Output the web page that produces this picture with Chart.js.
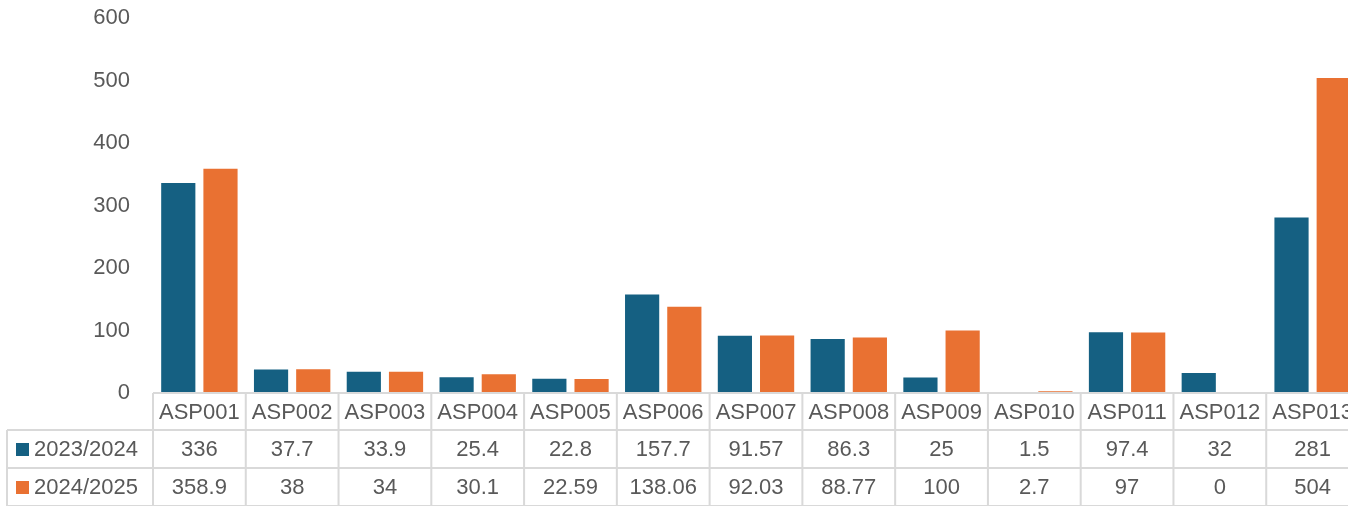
<!DOCTYPE html>
<html>
<head>
<meta charset="utf-8">
<script src="https://cdn.jsdelivr.net/npm/chart.js@4/dist/chart.umd.min.js"></script>
<style>
html,body{margin:0;padding:0;background:#fff;overflow:hidden;}
#wrap{width:1348px;height:506px;overflow:hidden;}
canvas{display:block;}
</style>
</head>
<body>
<div id="wrap"><canvas id="c" width="1362" height="506"></canvas></div>
<script>
const categories = ["ASP001","ASP002","ASP003","ASP004","ASP005","ASP006","ASP007","ASP008","ASP009","ASP010","ASP011","ASP012","ASP013"];
const seriesNames = ["2023/2024","2024/2025"];
const values2324 = [336,37.7,33.9,25.4,22.8,157.7,91.57,86.3,25,1.5,97.4,32,281];
const values2425 = [358.9,38,34,30.1,22.59,138.06,92.03,88.77,100,2.7,97,0,504];
const tickValues = [0,100,200,300,400,500,600];
const colors = ["#156082","#E97132"];

const FONT = "'Liberation Sans', Arial, sans-serif";
const TEXT = "#595959";
const GRID = "#D9D9D9";

const tablePlugin = {
  id: 'dataTable',
  afterDraw(chart) {
    const ctx = chart.ctx;
    const x = chart.scales.x;
    const area = chart.chartArea;
    const n = categories.length;
    const cw = (area.right - area.left) / n;
    const top = area.bottom;
    const rowH = [37, 38, 38];
    const y1 = top + rowH[0], y2 = y1 + rowH[1], y3 = y2 + rowH[2];
    const leftX = 7;
    ctx.save();
    ctx.strokeStyle = GRID;
    ctx.lineWidth = 2;
    ctx.beginPath();
    ctx.moveTo(area.left, top); ctx.lineTo(area.right, top);
    ctx.moveTo(leftX, y1); ctx.lineTo(area.right, y1);
    ctx.moveTo(leftX, y2); ctx.lineTo(area.right, y2);
    ctx.moveTo(leftX, y3); ctx.lineTo(area.right, y3);
    ctx.moveTo(leftX, y1); ctx.lineTo(leftX, y3);
    for (let i = 0; i <= n; i++) {
      const bx = i < n ? x.getPixelForValue(i) - cw / 2 : area.right;
      ctx.moveTo(bx, top); ctx.lineTo(bx, y3);
    }
    ctx.stroke();
    ctx.fillStyle = TEXT;
    ctx.font = "22px " + FONT;
    ctx.textAlign = "center";
    ctx.textBaseline = "middle";
    const rows = [values2324, values2425];
    for (let i = 0; i < n; i++) {
      const cx = x.getPixelForValue(i);
      ctx.fillText(categories[i], cx, (top + y1) / 2 + 1);
      ctx.fillText(String(rows[0][i]), cx, (y1 + y2) / 2 + 1);
      ctx.fillText(String(rows[1][i]), cx, (y2 + y3) / 2 + 1);
    }
    ctx.textAlign = "left";
    const rowTops = [y1, y2];
    for (let r = 0; r < 2; r++) {
      const cy = (rowTops[r] + rowTops[r] + 38) / 2;
      ctx.fillStyle = colors[r];
      ctx.fillRect(16, cy - 6, 13, 13);
      ctx.fillStyle = TEXT;
      ctx.fillText(seriesNames[r], 34, cy + 1);
    }
    ctx.restore();
  }
};

new Chart(document.getElementById('c'), {
  type: 'bar',
  data: {
    labels: categories,
    datasets: [
      {label: seriesNames[0], data: values2324, backgroundColor: colors[0], borderWidth: 0},
      {label: seriesNames[1], data: values2425, backgroundColor: colors[1], borderWidth: 0}
    ]
  },
  options: {
    responsive: false,
    animation: false,
    devicePixelRatio: 1,
    layout: {padding: {top: 18, right: 3, bottom: 113, left: 0}},
    datasets: {bar: {barPercentage: 0.81, categoryPercentage: 0.91}},
    plugins: {legend: {display: false}, tooltip: {enabled: false}},
    scales: {
      x: {display: false, offset: true, grid: {display: false}},
      y: {
        min: 0, max: 600,
        afterFit(s) { s.width = 153; s.paddingTop = 0; s.paddingBottom = 0; },
        afterBuildTicks(s) { s.ticks = tickValues.map(v => ({value: v})); },
        grid: {display: false, drawTicks: false},
        border: {display: false},
        ticks: {color: TEXT, font: {family: FONT, size: 22}, padding: 23}
      }
    }
  },
  plugins: [tablePlugin]
});
</script>
</body>
</html>
